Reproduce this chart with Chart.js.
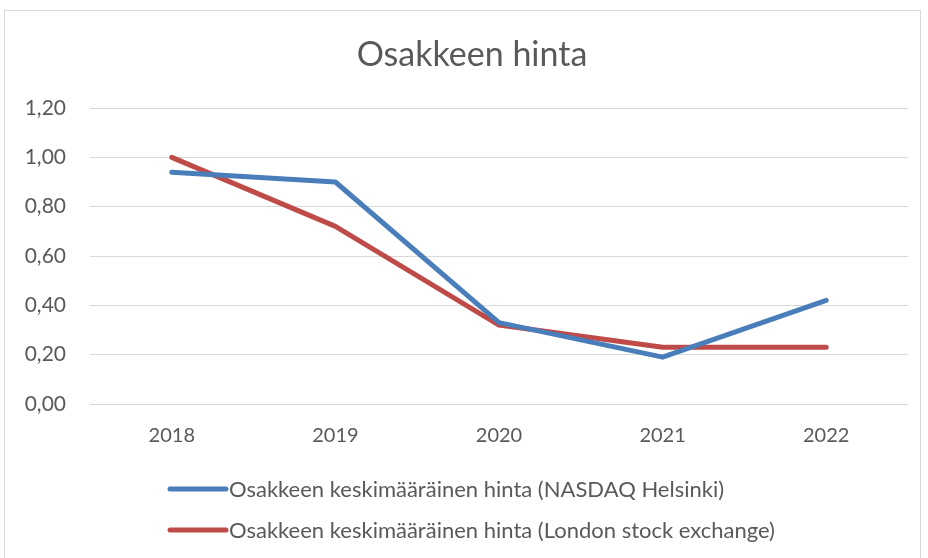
<!DOCTYPE html>
<html>
<head>
<meta charset="utf-8">
<script src="https://cdn.jsdelivr.net/npm/chart.js@4/dist/chart.umd.min.js"></script>
<style>
  html, body { margin: 0; padding: 0; background: #fff; }
  #wrap { width: 928px; height: 558px; }
</style>
</head>
<body>
<div id="wrap"><canvas id="chart" width="928" height="558"></canvas></div>
<script>
// Osakkeen hinta - data
const years = ['2018', '2019', '2020', '2021', '2022'];
const nasdaqHelsinki = [0.94, 0.90, 0.33, 0.19, 0.42];
const londonSE = [1.00, 0.72, 0.32, 0.23, 0.23];
const seriesNames = [
  'Osakkeen keskimääräinen hinta (NASDAQ Helsinki)',
  'Osakkeen keskimääräinen hinta (London stock exchange)'
];
const yTicks = [0, 0.2, 0.4, 0.6, 0.8, 1.0, 1.2];
const chartTitle = 'Osakkeen hinta';

const FONT = 'Lato, "Open Sans", sans-serif';
const TEXT = '#595959';
const GRID = '#d9d9d9';

// frame around the chart + title, like the office chart box
const framePlugin = {
  id: 'frame',
  beforeDraw(chart) {
    const ctx = chart.ctx;
    ctx.save();
    ctx.strokeStyle = GRID;
    ctx.lineWidth = 1;
    ctx.strokeRect(4.5, 10.5, 916, 600);
    ctx.fillStyle = TEXT;
    ctx.font = '34px ' + FONT;
    ctx.textAlign = 'center';
    ctx.textBaseline = 'middle';
    ctx.fillText(chartTitle, 472, 55);
    ctx.restore();
  }
};

// legend stacked in rows, left aligned block
const legendRows = {
  id: 'legendRows',
  afterDraw(chart) {
    const ctx = chart.ctx;
    ctx.save();
    ctx.font = '22px ' + FONT;
    ctx.textBaseline = 'middle';
    chart.data.datasets.forEach((ds, i) => {
      const y = 489 + i * 41;
      ctx.strokeStyle = ds.borderColor;
      ctx.lineWidth = 5;
      ctx.lineCap = 'round';
      ctx.beginPath();
      ctx.moveTo(170, y);
      ctx.lineTo(226, y);
      ctx.stroke();
      ctx.fillStyle = TEXT;
      ctx.fillText(ds.label, 229, y + 1);
    });
    ctx.restore();
  }
};

new Chart(document.getElementById('chart'), {
  type: 'line',
  data: {
    labels: years,
    datasets: [
      {
        label: seriesNames[0],
        data: nasdaqHelsinki,
        borderColor: '#4a7ebb',
        borderWidth: 5,
        pointRadius: 0,
        tension: 0,
        borderCapStyle: 'round',
        borderJoinStyle: 'round'
      },
      {
        label: seriesNames[1],
        data: londonSE,
        borderColor: '#be4b48',
        borderWidth: 5,
        pointRadius: 0,
        tension: 0,
        borderCapStyle: 'round',
        borderJoinStyle: 'round'
      }
    ]
  },
  options: {
    responsive: false,
    animation: false,
    layout: { padding: { left: 10, right: 20, top: 108, bottom: 104 } },
    plugins: {
      legend: { display: false },
      tooltip: { enabled: false },
      title: { display: false }
    },
    scales: {
      x: {
        offset: true,
        grid: { display: false, drawTicks: false },
        border: { display: false },
        ticks: { color: TEXT, font: { family: FONT, size: 20 }, padding: 20 },
        afterFit: s => { s.height = 50; }
      },
      y: {
        min: 0,
        max: 1.2,
        afterBuildTicks: s => { s.ticks = yTicks.map(v => ({ value: v })); },
        grid: { color: GRID, lineWidth: 1, drawTicks: false },
        border: { display: false },
        ticks: {
          color: TEXT,
          font: { family: FONT, size: 21 },
          padding: 24,
          callback: v => v.toFixed(2).replace('.', ',')
        },
        afterFit: s => { s.width = 80; }
      }
    }
  },
  plugins: [framePlugin, legendRows]
});
</script>
</body>
</html>
